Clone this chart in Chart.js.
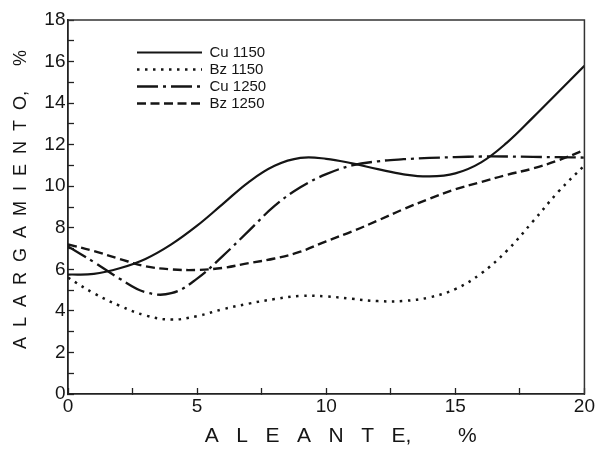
<!DOCTYPE html>
<html>
<head>
<meta charset="utf-8">
<script src="https://cdn.jsdelivr.net/npm/chart.js@4.4.1/dist/chart.umd.min.js"></script>
<style>
  html, body { margin: 0; padding: 0; background: #fff; }
  canvas { display: block; }
</style>
</head>
<body>
<canvas id="alloyChart" width="602" height="450"></canvas>
<script>
// alloy content (ALEANTE, %) shared by the four curves
var alloy  = [0, 1, 2, 3, 4, 5, 6, 7, 8, 9, 10, 11, 12, 13, 14, 15, 16, 17, 18, 19, 20];
// elongation (ALARGAMIENTO, %)
var cu1150 = [5.75, 5.78, 6.05, 6.5, 7.2, 8.1, 9.15, 10.2, 10.98, 11.36, 11.32, 11.1, 10.82, 10.57, 10.47, 10.62, 11.15, 12.1, 13.3, 14.55, 15.8];
var bz1150 = [5.6, 4.85, 4.25, 3.78, 3.58, 3.75, 4.08, 4.35, 4.57, 4.72, 4.7, 4.58, 4.47, 4.48, 4.65, 5.05, 5.8, 6.9, 8.3, 9.75, 11.0];
var cu1250 = [7.1, 6.35, 5.55, 4.9, 4.85, 5.55, 6.65, 7.85, 9.05, 9.95, 10.58, 11.0, 11.2, 11.3, 11.36, 11.4, 11.43, 11.43, 11.41, 11.4, 11.38];
var bz1250 = [7.2, 6.88, 6.5, 6.15, 6.0, 5.97, 6.07, 6.3, 6.52, 6.85, 7.35, 7.82, 8.35, 8.9, 9.4, 9.85, 10.2, 10.55, 10.85, 11.25, 11.74];

var seriesNames = ["Cu 1150", "Bz 1150", "Cu 1250", "Bz 1250"];
var xLabels = [0, 5, 10, 15, 20];
var yLabels = [0, 2, 4, 6, 8, 10, 12, 14, 16, 18];

var ink = "#151515";

function points(ys) {
    return alloy.map(function (x, i) {
        return { x: x, y: ys[i] };
    });
}

function curve(name, ys, dash, width) {
    return {
        label: name,
        data: points(ys),
        borderColor: ink,
        backgroundColor: ink,
        borderWidth: width,
        borderDash: dash,
        pointRadius: 0,
        pointHoverRadius: 0,
        fill: false,
        tension: 0.4
    };
}

//top and right sides of the box
var frame = {
    id: "frame",
    afterDatasetsDraw: function (chart) {
        var a = chart.chartArea, ctx = chart.ctx;
        ctx.save();
        ctx.strokeStyle = "#333";
        ctx.lineWidth = 1.5;
        ctx.beginPath();
        ctx.moveTo(a.left, a.top);
        ctx.lineTo(a.right, a.top);
        ctx.lineTo(a.right, a.bottom);
        ctx.stroke();
        ctx.restore();
    }
};

//put the legend up in the top left of the plot
var legendSpot = {
    id: "legendSpot",
    afterLayout: function (chart) {
        var lg = chart.legend, a = chart.chartArea;
        lg.left = a.left + 67;
        lg.top = a.top + 23;
        lg.right = a.right;
        lg.bottom = a.bottom;
        lg.width = lg.right - lg.left;
        lg.height = lg.bottom - lg.top;
    }
};

Chart.defaults.font.family = "'Liberation Sans', Arial, sans-serif";
Chart.defaults.color = ink;

new Chart(document.getElementById("alloyChart"), {
    type: "line",
    data: {
        datasets: [
            curve(seriesNames[0], cu1150, [], 2.2),
            curve(seriesNames[1], bz1150, [2.5, 5.5], 2.5),
            curve(seriesNames[2], cu1250, [21, 5, 3, 5], 2.3),
            curve(seriesNames[3], bz1250, [9, 4.5], 2.4)
        ]
    },
    options: {
        responsive: false,
        animation: false,
        devicePixelRatio: 1,
        layout: { padding: { left: 0, top: 20, right: 9, bottom: 0 } },
        plugins: {
            tooltip: { enabled: false },
            legend: {
                position: "chartArea",
                align: "start",
                labels: {
                    usePointStyle: true,
                    pointStyle: "line",
                    pointStyleWidth: 65,
                    padding: 2,
                    color: ink,
                    font: { size: 15 },
                    // point style drops the dash, so copy it back from the dataset
                    generateLabels: function (chart) {
                        var items = Chart.defaults.plugins.legend.labels.generateLabels(chart);
                        items.forEach(function (it) {
                            var ds = chart.data.datasets[it.datasetIndex];
                            it.lineDash = ds.borderDash;
                            it.lineWidth = ds.borderWidth;
                        });
                        return items;
                    }
                }
            }
        },
        scales: {
            x: {
                type: "linear",
                min: 0,
                max: 20,
                afterFit: function (s) { s.height = 56; },
                border: { display: true, color: "#222", width: 1.8 },
                grid: { drawOnChartArea: false, drawTicks: true, tickLength: -6, tickColor: "#222", tickWidth: 1.3 },
                ticks: {
                    stepSize: 2.5,
                    autoSkip: false,
                    maxRotation: 0,
                    padding: 7,
                    font: { size: 19 },
                    callback: function (v) { return xLabels.indexOf(v) >= 0 ? String(v) : ""; }
                },
                title: {
                    display: true,
                    text: "     A   L   E   A   N   T   E,        %",
                    font: { size: 21 },
                    padding: { top: 0, bottom: 1 }
                }
            },
            y: {
                min: 0,
                max: 18,
                afterFit: function (s) { s.width = 68; },
                border: { display: true, color: "#222", width: 1.8 },
                grid: { drawOnChartArea: false, drawTicks: true, tickLength: -6, tickColor: "#222", tickWidth: 1.3 },
                ticks: {
                    stepSize: 1,
                    autoSkip: false,
                    padding: 8.5,
                    font: { size: 19 },
                    callback: function (v) { return yLabels.indexOf(v) >= 0 ? String(v) : ""; }
                },
                title: {
                    display: true,
                    text: "   A  L  A  R  G  A  M  I  E  N  T  O,     %",
                    font: { size: 18 },
                    padding: { top: 10, bottom: 0 }
                }
            }
        }
    },
    plugins: [frame, legendSpot]
});
</script>
</body>
</html>
